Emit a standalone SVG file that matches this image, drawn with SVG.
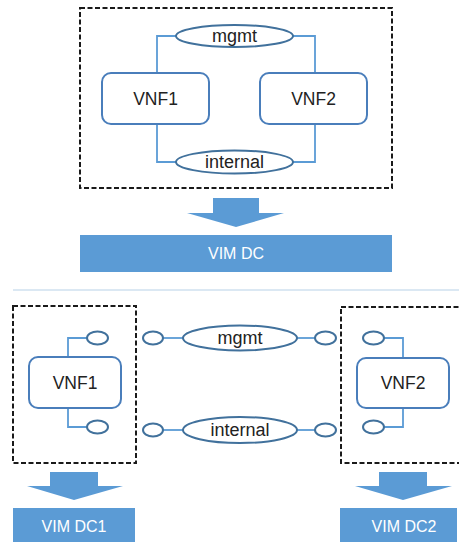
<svg xmlns="http://www.w3.org/2000/svg" width="459" height="542" viewBox="0 0 459 542">
<style>
.dash{fill:none;stroke:#1a1a1a;stroke-width:2;stroke-dasharray:5 2.5}
.box{fill:#fff;stroke:#4a7ebb;stroke-width:2}
.ell{fill:#fff;stroke:#41719c;stroke-width:2}
.wire{fill:none;stroke:#5b9bd5;stroke-width:1.8}
.blk{fill:#5b9bd5}
.t{font-family:"Liberation Sans",Arial,sans-serif;font-size:17.5px;fill:#222;text-anchor:middle}
.e{font-size:18px}
.w{font-family:"Liberation Sans",Arial,sans-serif;font-size:16px;fill:#fff;text-anchor:middle}
</style>
<rect width="459" height="542" fill="#fff"/>
<g id="connectors">
<polyline class="wire" points="176,36 157,36 157,73"/>
<polyline class="wire" points="293,36 315,36 315,73"/>
<polyline class="wire" points="157,124 157,162 176,162"/>
<polyline class="wire" points="315,124 315,162 293,162"/>
<polyline class="wire" points="68,357 68,338 87,338"/>
<polyline class="wire" points="68,408 68,427 87,427"/>
<line class="wire" x1="163" y1="338" x2="183" y2="338"/>
<line class="wire" x1="163" y1="430" x2="183" y2="430"/>
<line class="wire" x1="297" y1="338" x2="315" y2="338"/>
<line class="wire" x1="297" y1="430" x2="315" y2="430"/>
<polyline class="wire" points="384,338 403,338 403,358"/>
<polyline class="wire" points="384,427 403,427 403,408"/>
</g>
<g id="dc-top"><rect class="dash" x="80" y="8" width="312" height="180"/></g>
<g id="mgmt-top"><ellipse class="ell" cx="234.5" cy="36" rx="58.5" ry="11"/><text class="t e" x="234.5" y="42">mgmt</text></g>
<g id="internal-top"><ellipse class="ell" cx="234.5" cy="162" rx="58.5" ry="11.5"/><text class="t e" x="234.5" y="168">internal</text></g>
<g id="vnf1-top"><rect class="box" x="102" y="73" width="107" height="51" rx="9"/><text class="t" x="155.5" y="105">VNF1</text></g>
<g id="vnf2-top"><rect class="box" x="260" y="73" width="107" height="51" rx="9"/><text class="t" x="313.5" y="105">VNF2</text></g>
<g id="arrow-top"><polygon class="blk" points="213,198 259,198 259,213 284,213 236,227 187,213 213,213"/></g>
<g id="vim-dc"><rect class="blk" x="80" y="235" width="312" height="37"/><text class="w" x="236" y="259">VIM DC</text></g>
<g id="separator"><line x1="13" y1="290" x2="459" y2="290" stroke="#cfe0ef" stroke-width="1.5"/></g>
<g id="dc1"><rect class="dash" x="13" y="306" width="123" height="157"/></g>
<g id="vnf1"><rect class="box" x="29" y="357" width="92" height="51" rx="9"/><text class="t" x="75" y="389">VNF1</text>
<ellipse class="ell" cx="97.5" cy="338" rx="10.5" ry="6.5"/><ellipse class="ell" cx="97.5" cy="427" rx="10.5" ry="6.5"/></g>
<g id="mgmt"><ellipse class="ell" cx="153" cy="338" rx="10" ry="6.5"/><ellipse class="ell" cx="240" cy="338" rx="57" ry="12.5"/><text class="t e" x="240" y="344">mgmt</text><ellipse class="ell" cx="325.5" cy="338" rx="10.5" ry="6.5"/></g>
<g id="internal"><ellipse class="ell" cx="153" cy="430" rx="10" ry="6.5"/><ellipse class="ell" cx="240" cy="430" rx="57" ry="13"/><text class="t e" x="240" y="436">internal</text><ellipse class="ell" cx="325.5" cy="430" rx="10.5" ry="6.5"/></g>
<g id="dc2"><rect class="dash" x="341" y="307" width="125" height="156"/></g>
<g id="vnf2"><rect class="box" x="357" y="358" width="92" height="50" rx="9"/><text class="t" x="403" y="389">VNF2</text>
<ellipse class="ell" cx="373.5" cy="338" rx="10.5" ry="6.5"/><ellipse class="ell" cx="373.5" cy="427" rx="10.5" ry="6.5"/></g>
<g id="arrow-dc1"><polygon class="blk" points="50,472 98,472 98,486 123,486 74,500 27,486 50,486"/></g>
<g id="arrow-dc2"><polygon class="blk" points="379,472 427,472 427,486 452,486 403,500 355,486 379,486"/></g>
<g id="vim-dc1"><rect class="blk" x="13" y="508" width="122" height="40"/><text class="w" x="74" y="532">VIM DC1</text></g>
<g id="vim-dc2"><rect class="blk" x="340" y="508" width="117" height="40"/><text class="w" x="404" y="532">VIM DC2</text></g>
</svg>
